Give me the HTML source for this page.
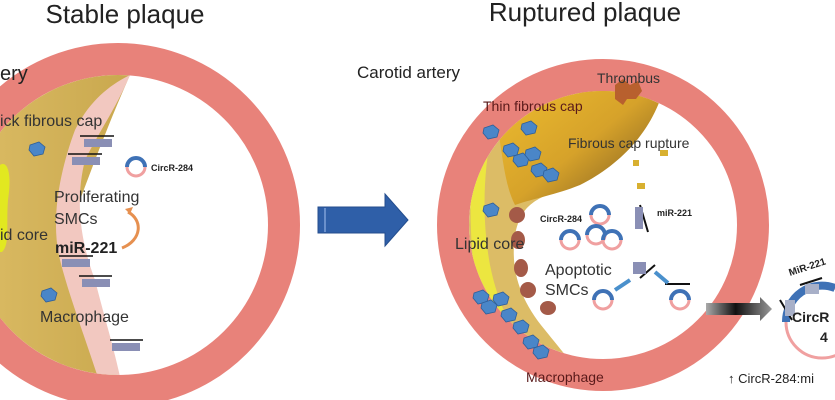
<!DOCTYPE html>
<html><head><meta charset="utf-8"><style>
body{margin:0;background:#fff;}
svg{display:block;font-family:"Liberation Sans",sans-serif;}
</style></head><body>
<svg width="835" height="400" viewBox="0 0 835 400" xmlns="http://www.w3.org/2000/svg">
<defs>
<linearGradient id="cap" x1="0" y1="0" x2="1" y2="1">
<stop offset="0" stop-color="#f2c230"/><stop offset="0.55" stop-color="#d6a22a"/><stop offset="1" stop-color="#6e5020"/></linearGradient>
<linearGradient id="gr" x1="0" y1="0" x2="1" y2="0">
<stop offset="0" stop-color="#aaa"/><stop offset="0.45" stop-color="#111"/><stop offset="1" stop-color="#999"/></linearGradient>
<linearGradient id="tan" x1="0" y1="0" x2="1" y2="0">
<stop offset="0" stop-color="#d8b860"/><stop offset="1" stop-color="#c9a84e"/></linearGradient>
<path id="m" d="M0,0 l9,-3 l6,5 l-2,7 l-9,2 l-5,-6z" fill="#4a86c8" stroke="#2e5f9a" stroke-width="0.8"/>
<g id="c" fill="none"><path d="M-9,0 A9,9 0 0 1 9,0" stroke="#3f72b6" stroke-width="4"/><path d="M-9,0 A9,9 0 0 0 9,0" stroke="#f0a0a0" stroke-width="3"/></g>
<clipPath id="cl"><circle cx="118" cy="225" r="150"/></clipPath>
<clipPath id="cr2"><circle cx="603" cy="225" r="134"/></clipPath>
</defs>

<circle cx="118" cy="225" r="166" fill="none" stroke="#e8827a" stroke-width="32"/>
<g clip-path="url(#cl)">
<path d="M0,60 L130,75 C110,120 95,160 80,200 C70,250 95,300 125,400 L0,400Z" fill="url(#tan)"/>
<path d="M130,75 C115,110 100,130 85,160 C75,200 80,240 95,280 C105,320 115,350 125,400 L105,400 C90,350 70,300 60,260 C50,220 60,170 75,130 C90,100 110,85 130,75Z" fill="#f2c8c0"/>
<path d="M0,165 C8,160 12,175 8,200 C6,225 10,245 2,252 L0,252Z" fill="#e2e820"/>
</g>
<use href="#m" transform="translate(30,145)"/>
<use href="#m" transform="translate(42,291)"/>
<g stroke="#111" stroke-width="1.6">
<line x1="80" y1="136" x2="114" y2="136"/><line x1="68" y1="154" x2="102" y2="154"/>
<line x1="59" y1="256" x2="93" y2="256"/><line x1="79" y1="276" x2="112" y2="276"/>
<line x1="110" y1="340" x2="143" y2="340"/></g>
<g fill="#8a8fb5">
<rect x="84" y="139" width="28" height="8"/><rect x="72" y="157" width="28" height="8"/>
<rect x="62" y="259" width="28" height="8"/><rect x="82" y="279" width="28" height="8"/>
<rect x="112" y="343" width="28" height="8"/></g>
<use href="#c" transform="translate(136,167)"/>
<text x="151" y="171" font-size="9" font-weight="bold" fill="#222">CircR-284</text>
<path d="M128,212 C143,220 142,240 122,248" fill="none" stroke="#e69050" stroke-width="3"/>
<path d="M125,209 l8,-2 l-3,7z" fill="#e69050"/>
<text x="54" y="202" font-size="16" fill="#333">Proliferating</text>
<text x="54" y="224" font-size="16" fill="#333">SMCs</text>
<text x="0" y="240" font-size="16" fill="#333">id core</text>
<text x="55" y="253" font-size="16" font-weight="bold" fill="#222">miR-221</text>
<text x="40" y="322" font-size="16" fill="#333">Macrophage</text>
<text x="0" y="126" font-size="16" fill="#333">ick fibrous cap</text>
<text x="0" y="80" font-size="20" fill="#222">ery</text>
<text x="125" y="23" font-size="26" fill="#222" text-anchor="middle">Stable plaque</text>

<path d="M318,207 L385,207 L385,194 L408,220 L385,246 L385,233 L318,233Z" fill="#2f5fa8" stroke="#244e8e"/>
<line x1="325" y1="208" x2="325" y2="232" stroke="#6a90cc" stroke-width="2"/>

<circle cx="603" cy="225" r="150" fill="none" stroke="#e8827a" stroke-width="32"/>
<g clip-path="url(#cr2)">
<path d="M440,60 L665,60 C650,130 610,170 560,190 C530,200 520,210 515,235 C510,270 520,300 545,330 C565,355 580,372 600,400 L440,400Z" fill="#dcbc66"/>
<path d="M478,110 L500,100 C484,150 480,210 490,265 C500,315 522,350 552,385 L532,392 C500,360 480,320 474,270 C468,220 470,160 478,110Z" fill="#ece640"/>
<path d="M492,98 C525,76 565,68 610,64 C640,62 662,68 666,80 C655,130 620,165 580,185 C555,195 535,198 515,205 C502,180 502,140 492,98Z" fill="url(#cap)"/>
</g>
<g fill="#a45a48">
<ellipse cx="517" cy="215" rx="8" ry="8"/><ellipse cx="518" cy="240" rx="7" ry="9"/>
<ellipse cx="521" cy="268" rx="7" ry="9"/><ellipse cx="528" cy="290" rx="8" ry="8"/>
<ellipse cx="548" cy="308" rx="8" ry="7"/></g>
<g fill="#b8602e"><path d="M615,85 l8,-6 l7,6 l8,-4 l4,10 l-6,8 l-9,0 l-4,6 l-8,-6z"/></g>
<g fill="#d8b030"><rect x="660" y="150" width="8" height="6"/><rect x="633" y="160" width="6" height="6"/><rect x="637" y="183" width="8" height="6"/></g>
<use href="#m" transform="translate(484,128)"/><use href="#m" transform="translate(522,124)"/>
<use href="#m" transform="translate(504,146)"/><use href="#m" transform="translate(514,156)"/>
<use href="#m" transform="translate(526,150)"/><use href="#m" transform="translate(532,166)"/>
<use href="#m" transform="translate(544,171)"/><use href="#m" transform="translate(484,206)"/>
<use href="#m" transform="translate(474,293)"/><use href="#m" transform="translate(482,303)"/>
<use href="#m" transform="translate(494,295)"/><use href="#m" transform="translate(502,311)"/>
<use href="#m" transform="translate(514,323)"/><use href="#m" transform="translate(524,338)"/>
<use href="#m" transform="translate(534,348)"/>
<use href="#c" transform="translate(600,215)"/><use href="#c" transform="translate(570,240)"/>
<use href="#c" transform="translate(596,235)"/><use href="#c" transform="translate(612,240)"/>
<use href="#c" transform="translate(603,300)"/><use href="#c" transform="translate(680,300)"/>
<text x="540" y="222" font-size="9" font-weight="bold" fill="#222">CircR-284</text>
<line x1="640" y1="205" x2="648" y2="232" stroke="#111" stroke-width="2"/>
<rect x="635" y="207" width="8" height="22" fill="#8a8fb5"/>
<text x="657" y="216" font-size="9" font-weight="bold" fill="#222">miR-221</text>
<line x1="640" y1="278" x2="655" y2="265" stroke="#111" stroke-width="2"/>
<rect x="633" y="262" width="13" height="12" fill="#8a8fb5"/>
<line x1="665" y1="284" x2="690" y2="284" stroke="#111" stroke-width="2"/>
<g stroke="#4a90cc" stroke-width="4"><line x1="615" y1="290" x2="630" y2="280"/><line x1="655" y1="272" x2="668" y2="283"/></g>
<text x="545" y="275" font-size="16" fill="#333">Apoptotic</text>
<text x="545" y="295" font-size="16" fill="#333">SMCs</text>
<text x="455" y="249" font-size="16" fill="#333">Lipid core</text>
<text x="483" y="111" font-size="14" fill="#5a1a1a">Thin fibrous cap</text>
<text x="597" y="83" font-size="14" fill="#333">Thrombus</text>
<text x="568" y="148" font-size="14" fill="#333">Fibrous cap rupture</text>
<text x="526" y="382" font-size="14" fill="#5a1a1a">Macrophage</text>
<text x="357" y="78" font-size="17" fill="#222">Carotid artery</text>
<text x="585" y="21" font-size="26" fill="#222" text-anchor="middle">Ruptured plaque</text>

<path d="M706,303 L760,303 L760,297 L772,309 L760,321 L760,315 L706,315Z" fill="url(#gr)"/>
<circle cx="822" cy="322" r="36" fill="none" stroke="#f0a0a0" stroke-width="3"/>
<path d="M786,322 A36,36 0 0 1 835,288" fill="none" stroke="#3f72b6" stroke-width="8"/>
<line x1="780" y1="300" x2="792" y2="320" stroke="#111" stroke-width="2"/>
<rect x="785" y="300" width="10" height="16" fill="#a8b0c8"/>
<line x1="800" y1="285" x2="822" y2="278" stroke="#111" stroke-width="2"/>
<rect x="805" y="284" width="14" height="10" fill="#a8b0c8"/>
<text x="790" y="276" font-size="10" font-weight="bold" fill="#222" transform="rotate(-18 790 276)">MiR-221</text>
<text x="792" y="322" font-size="14" font-weight="bold" fill="#222">CircR</text>
<text x="820" y="342" font-size="14" font-weight="bold" fill="#222">4</text>
<text x="728" y="383" font-size="13" fill="#222">↑ CircR-284:mi</text>
</svg>
</body></html>
